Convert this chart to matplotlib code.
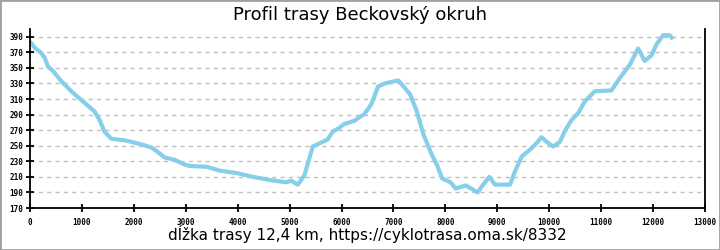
import matplotlib.pyplot as plt
from matplotlib.patches import Rectangle

distance = [0, 90, 218, 282, 346, 442, 603, 795, 1019, 1244, 1340, 1436, 1564, 1820,
            2077, 2333, 2461, 2590, 2782, 2974, 3077, 3397, 3653, 3973, 4293, 4613,
            4933, 5029, 5157, 5285, 5381, 5445, 5573, 5733, 5829, 5957, 6052, 6247,
            6442, 6572, 6702, 6832, 7092, 7222, 7320, 7450, 7580, 7742, 7840, 7937,
            8100, 8197, 8392, 8522, 8620, 8750, 8847, 8955, 9244, 9340, 9468, 9628,
            9724, 9852, 9949, 10077, 10205, 10301, 10429, 10558, 10686, 10878, 11199,
            11359, 11551, 11712, 11840, 11968, 12064, 12192, 12320, 12384]
elevation = [384, 376, 369, 363, 352, 346, 333, 320, 307, 294, 283, 268, 259, 257,
             253, 248, 242, 235, 232, 226, 224, 223, 218, 215, 210, 206,
             203, 205, 200, 212, 234, 249, 253, 258, 268, 273, 278, 282,
             291, 303, 326, 330, 334, 324, 316, 294, 264, 238, 225, 208,
             203, 195, 199, 194, 190, 202, 210, 200, 200, 217, 236, 245,
             251, 261, 255, 249, 255, 269, 283, 292, 307, 320, 321,
             337, 354, 375, 359, 366, 380, 392, 392, 387]

x_ticks = list(range(0, 13001, 1000))
y_ticks = list(range(170, 391, 20))

fig = plt.figure(figsize=(7.2, 2.5), dpi=100)
ax = fig.add_axes([30 / 720, 1 - 208 / 250, 675 / 720, 179 / 250])

ax.plot(distance, elevation, color='#87ceeb', linewidth=3, solid_capstyle='butt')

ax.set_xlim(0, 13000)
ax.set_ylim(170, 400)
ax.set_xticks(x_ticks)
ax.set_yticks(y_ticks)
ax.yaxis.grid(True, color='#c0c0c0', linestyle=(0, (3, 3)), linewidth=1)
ax.set_axisbelow(True)

for lbl in ax.get_xticklabels() + ax.get_yticklabels():
    lbl.set_fontfamily('DejaVu Sans Mono')
    lbl.set_fontweight('bold')
    lbl.set_fontsize(5.5)
ax.tick_params(direction='inout', length=6, width=1.3, pad=2)
ax.tick_params(axis='x', pad=4)

ax.spines['top'].set_visible(False)
for s in ['left', 'right', 'bottom']:
    ax.spines[s].set_linewidth(1.3)

ax.set_xlabel('dĺžka trasy 12,4 km, https://cyklotrasa.oma.sk/8332', fontsize=11, labelpad=-1)
fig.suptitle('Profil trasy Beckovský okruh', fontsize=13, y=0.975)

fig.patches.append(Rectangle((0, 0), 1, 1, transform=fig.transFigure, fill=False,
                             edgecolor='#a0a0a0', linewidth=2))

fig.savefig('out.png', dpi=100)
